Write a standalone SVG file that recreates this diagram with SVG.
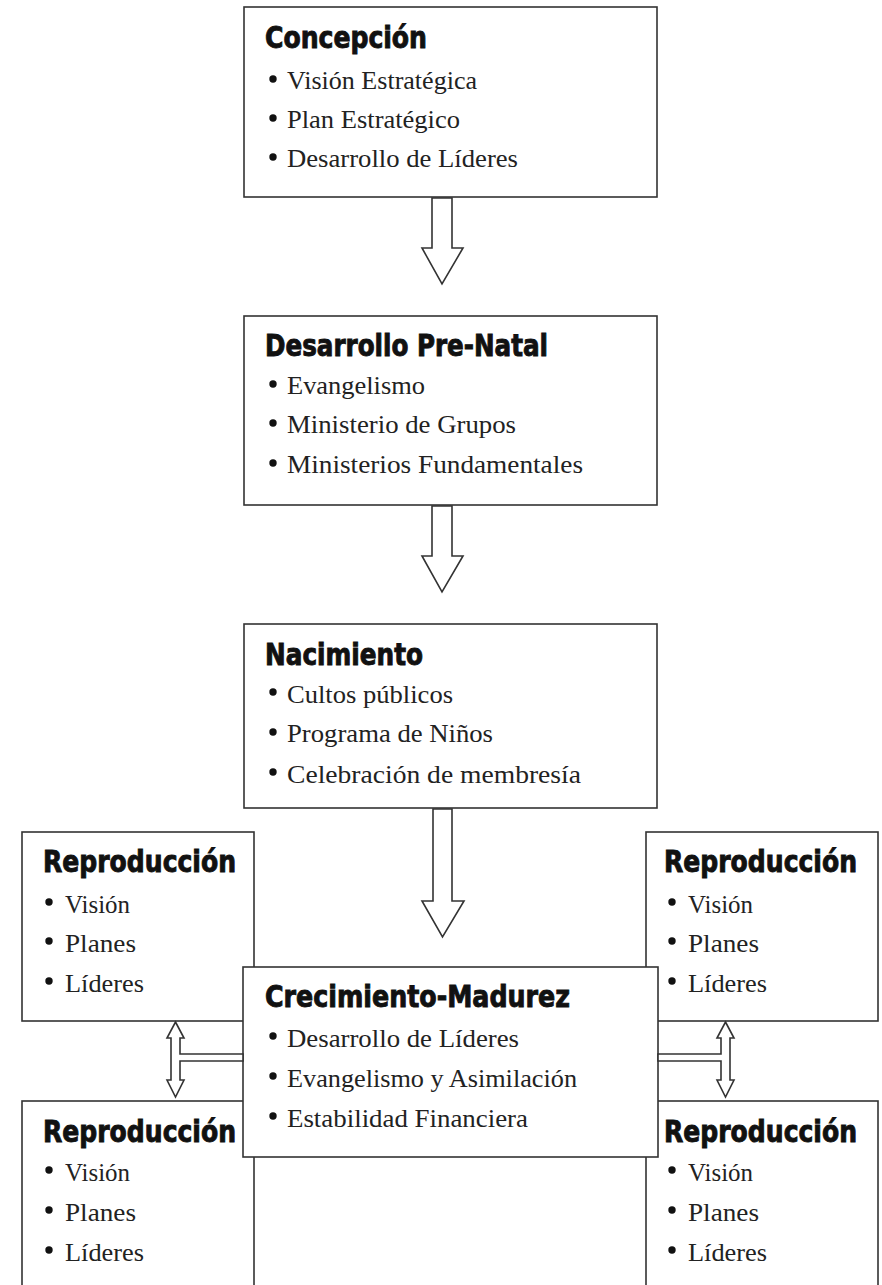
<svg xmlns="http://www.w3.org/2000/svg" width="882" height="1285" viewBox="0 0 882 1285">
<style>
.box{fill:#fff;stroke:#333;stroke-width:1.6}
.arr{fill:#fff;stroke:#333;stroke-width:1.6;stroke-linejoin:miter}
.t{font-family:"Liberation Sans Narrow","DejaVu Sans Condensed","Liberation Sans",sans-serif;font-weight:bold;font-size:31px;fill:#111;stroke:#111;stroke-width:0.9}
.i{font-family:"Liberation Serif","DejaVu Serif",serif;font-size:25px;fill:#222}
.b{fill:#111}
</style>
<rect width="882" height="1285" fill="#fff"/>

<g id="concepcion">
<rect class="box" x="244" y="7" width="413" height="190"/>
<text class="t" x="265" y="48" textLength="162" lengthAdjust="spacingAndGlyphs">Concepción</text>
<circle class="b" cx="273" cy="79" r="3.7"/><text class="i" x="287" y="89" textLength="190" lengthAdjust="spacingAndGlyphs">Visión Estratégica</text>
<circle class="b" cx="273" cy="118" r="3.7"/><text class="i" x="287" y="128" textLength="173" lengthAdjust="spacingAndGlyphs">Plan Estratégico</text>
<circle class="b" cx="273" cy="157" r="3.7"/><text class="i" x="287" y="167" textLength="231" lengthAdjust="spacingAndGlyphs">Desarrollo de Líderes</text>
</g>

<g id="prenatal">
<rect class="box" x="244" y="316" width="413" height="189"/>
<text class="t" x="265" y="356" textLength="283" lengthAdjust="spacingAndGlyphs">Desarrollo Pre-Natal</text>
<circle class="b" cx="273" cy="384" r="3.7"/><text class="i" x="287" y="394" textLength="138" lengthAdjust="spacingAndGlyphs">Evangelismo</text>
<circle class="b" cx="273" cy="423" r="3.7"/><text class="i" x="287" y="433" textLength="229" lengthAdjust="spacingAndGlyphs">Ministerio de Grupos</text>
<circle class="b" cx="273" cy="463" r="3.7"/><text class="i" x="287" y="473" textLength="296" lengthAdjust="spacingAndGlyphs">Ministerios Fundamentales</text>
</g>

<g id="nacimiento">
<rect class="box" x="244" y="624" width="413" height="184"/>
<text class="t" x="265" y="665" textLength="158" lengthAdjust="spacingAndGlyphs">Nacimiento</text>
<circle class="b" cx="273" cy="692" r="3.7"/><text class="i" x="287" y="703" textLength="166" lengthAdjust="spacingAndGlyphs">Cultos públicos</text>
<circle class="b" cx="273" cy="732" r="3.7"/><text class="i" x="287" y="742" textLength="206" lengthAdjust="spacingAndGlyphs">Programa de Niños</text>
<circle class="b" cx="273" cy="772" r="3.7"/><text class="i" x="287" y="783" textLength="294" lengthAdjust="spacingAndGlyphs">Celebración de membresía</text>
</g>

<g id="repro-tl">
<rect class="box" x="22" y="832" width="232" height="189"/>
<text class="t" x="43" y="872" textLength="193" lengthAdjust="spacingAndGlyphs">Reproducción</text>
<circle class="b" cx="49" cy="902" r="3.7"/><text class="i" x="65" y="913" textLength="65" lengthAdjust="spacingAndGlyphs">Visión</text>
<circle class="b" cx="49" cy="941" r="3.7"/><text class="i" x="65" y="952" textLength="71" lengthAdjust="spacingAndGlyphs">Planes</text>
<circle class="b" cx="49" cy="981" r="3.7"/><text class="i" x="65" y="992" textLength="79" lengthAdjust="spacingAndGlyphs">Líderes</text>
</g>

<g id="repro-tr">
<rect class="box" x="646" y="832" width="232" height="189"/>
<text class="t" x="664" y="872" textLength="193" lengthAdjust="spacingAndGlyphs">Reproducción</text>
<circle class="b" cx="672" cy="902" r="3.7"/><text class="i" x="688" y="913" textLength="65" lengthAdjust="spacingAndGlyphs">Visión</text>
<circle class="b" cx="672" cy="941" r="3.7"/><text class="i" x="688" y="952" textLength="71" lengthAdjust="spacingAndGlyphs">Planes</text>
<circle class="b" cx="672" cy="981" r="3.7"/><text class="i" x="688" y="992" textLength="79" lengthAdjust="spacingAndGlyphs">Líderes</text>
</g>

<g id="repro-bl">
<rect class="box" x="22" y="1101" width="232" height="200"/>
<text class="t" x="43" y="1142" textLength="193" lengthAdjust="spacingAndGlyphs">Reproducción</text>
<circle class="b" cx="49" cy="1170" r="3.7"/><text class="i" x="65" y="1181" textLength="65" lengthAdjust="spacingAndGlyphs">Visión</text>
<circle class="b" cx="49" cy="1210" r="3.7"/><text class="i" x="65" y="1221" textLength="71" lengthAdjust="spacingAndGlyphs">Planes</text>
<circle class="b" cx="49" cy="1250" r="3.7"/><text class="i" x="65" y="1261" textLength="79" lengthAdjust="spacingAndGlyphs">Líderes</text>
</g>

<g id="repro-br">
<rect class="box" x="646" y="1101" width="232" height="200"/>
<text class="t" x="664" y="1142" textLength="193" lengthAdjust="spacingAndGlyphs">Reproducción</text>
<circle class="b" cx="672" cy="1170" r="3.7"/><text class="i" x="688" y="1181" textLength="65" lengthAdjust="spacingAndGlyphs">Visión</text>
<circle class="b" cx="672" cy="1210" r="3.7"/><text class="i" x="688" y="1221" textLength="71" lengthAdjust="spacingAndGlyphs">Planes</text>
<circle class="b" cx="672" cy="1250" r="3.7"/><text class="i" x="688" y="1261" textLength="79" lengthAdjust="spacingAndGlyphs">Líderes</text>
</g>

<g id="crecimiento">
<rect class="box" x="243" y="967" width="415" height="190"/>
<text class="t" x="265" y="1007" textLength="305" lengthAdjust="spacingAndGlyphs">Crecimiento-Madurez</text>
<circle class="b" cx="273" cy="1036" r="3.7"/><text class="i" x="287" y="1047" textLength="232" lengthAdjust="spacingAndGlyphs">Desarrollo de Líderes</text>
<circle class="b" cx="273" cy="1076" r="3.7"/><text class="i" x="287" y="1087" textLength="290" lengthAdjust="spacingAndGlyphs">Evangelismo y Asimilación</text>
<circle class="b" cx="273" cy="1116" r="3.7"/><text class="i" x="287" y="1127" textLength="241" lengthAdjust="spacingAndGlyphs">Estabilidad Financiera</text>
</g>

<g id="connectors">
<polygon class="arr" points="432,198 452,198 452,248 463,248 442,284 422,248 432,248"/>
<polygon class="arr" points="432,506 452,506 452,556 463,556 442,592 422,556 432,556"/>
<polygon class="arr" points="433,809 452,809 452,901 464,901 442.5,937 422,901 433,901"/>
<polygon class="arr" points="175.5,1022 184,1038 180,1038 180,1054 243,1054 243,1061 180,1061 180,1080 184,1080 175.5,1097 167,1080 171,1080 171,1038 167,1038"/>
<polygon class="arr" points="725.5,1022 734,1038 730,1038 730,1080 734,1080 725.5,1097 717,1080 721,1080 721,1061 658,1061 658,1054 721,1054 721,1038 717,1038"/>
</g>
</svg>
